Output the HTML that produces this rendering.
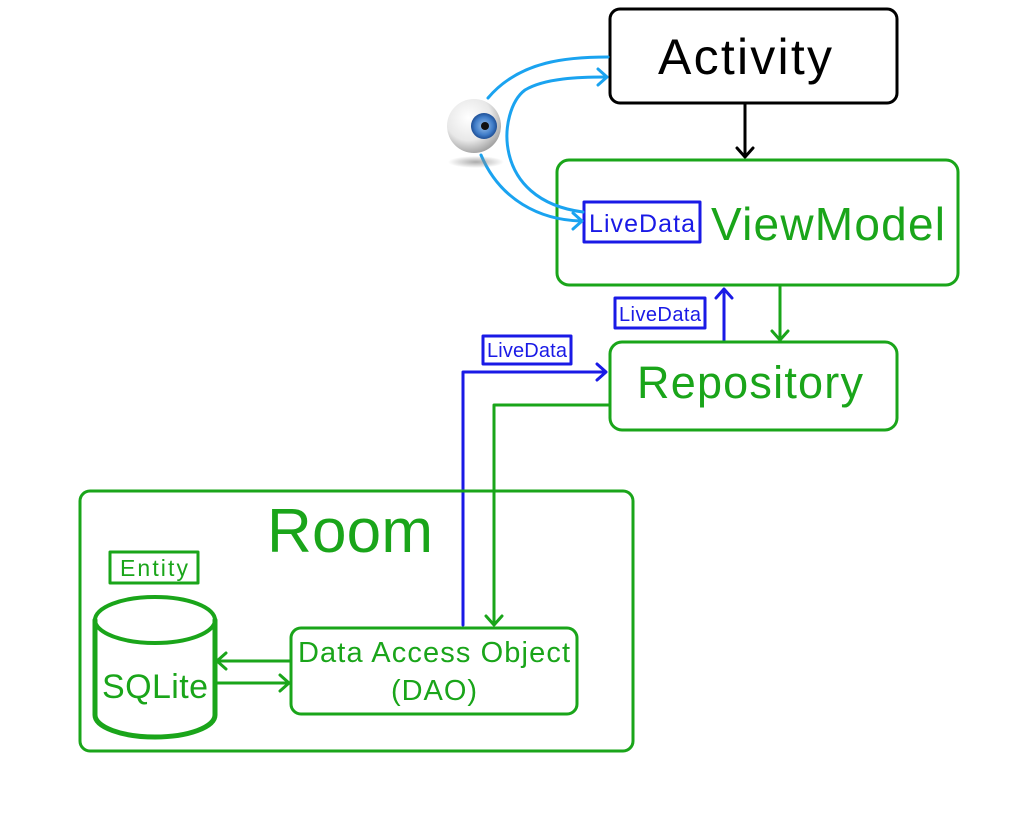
<!DOCTYPE html>
<html><head><meta charset="utf-8"><style>
html,body{margin:0;padding:0;background:#fff;}
svg{display:block;font-family:"Liberation Sans",sans-serif;}
</style></head><body>
<svg width="1025" height="831" viewBox="0 0 1025 831" xmlns="http://www.w3.org/2000/svg">
<defs>
<radialGradient id="eye" cx="0.4" cy="0.35" r="0.7">
<stop offset="0" stop-color="#ffffff"/><stop offset="0.6" stop-color="#e8e8e8"/><stop offset="1" stop-color="#9a9a9a"/>
</radialGradient>
<radialGradient id="iris" cx="0.5" cy="0.5" r="0.5">
<stop offset="0" stop-color="#9cc3ee"/><stop offset="0.7" stop-color="#3f7cc8"/><stop offset="1" stop-color="#1f4f95"/>
</radialGradient>
<radialGradient id="shadow" cx="0.5" cy="0.5" r="0.5">
<stop offset="0" stop-color="#888" stop-opacity="0.7"/><stop offset="1" stop-color="#888" stop-opacity="0"/>
</radialGradient>
</defs>
<g fill="none" stroke-linecap="round" stroke-linejoin="round">
<rect x="610" y="9" width="287" height="94" rx="10" stroke="#000" stroke-width="3"/>
<line x1="745" y1="103" x2="745" y2="156" stroke="#000" stroke-width="3"/>
<polyline points="737,148 745,157 753,148" stroke="#000" stroke-width="3"/>
<rect x="557" y="160" width="401" height="125" rx="12" stroke="#1aa51a" stroke-width="3"/>
<rect x="584" y="202" width="116" height="40" stroke="#1a1ae6" stroke-width="3"/>
<line x1="780" y1="286" x2="780" y2="339" stroke="#1aa51a" stroke-width="3"/>
<polyline points="772,331 780,340 788,331" stroke="#1aa51a" stroke-width="3"/>
<line x1="724" y1="341" x2="724" y2="290" stroke="#1a1ae6" stroke-width="3"/>
<polyline points="716,298 724,289 732,298" stroke="#1a1ae6" stroke-width="3"/>
<rect x="615" y="298" width="90" height="30" stroke="#1a1ae6" stroke-width="3"/>
<rect x="610" y="342" width="287" height="88" rx="12" stroke="#1aa51a" stroke-width="3"/>
<polyline points="463,625 463,372 605,372" stroke="#1a1ae6" stroke-width="3"/>
<polyline points="597,364 606,372 597,380" stroke="#1a1ae6" stroke-width="3"/>
<rect x="483" y="336" width="88" height="28" stroke="#1a1ae6" stroke-width="3"/>
<polyline points="609,405 494,405 494,624" stroke="#1aa51a" stroke-width="3"/>
<polyline points="486,616 494,625 502,616" stroke="#1aa51a" stroke-width="3"/>
<rect x="80" y="491" width="553" height="260" rx="10" stroke="#1aa51a" stroke-width="3"/>
<rect x="110" y="552" width="88" height="31" stroke="#1aa51a" stroke-width="3"/>
<path d="M95,620 L95,715 A60,22 0 0 0 215,715 L215,620" stroke="#1aa51a" stroke-width="5"/>
<ellipse cx="155" cy="620" rx="60" ry="23" stroke="#1aa51a" stroke-width="4"/>
<rect x="291" y="628" width="286" height="86" rx="10" stroke="#1aa51a" stroke-width="3"/>
<line x1="290" y1="661" x2="218" y2="661" stroke="#1aa51a" stroke-width="3"/>
<polyline points="226,653 217,661 226,669" stroke="#1aa51a" stroke-width="3"/>
<line x1="217" y1="683" x2="288" y2="683" stroke="#1aa51a" stroke-width="3"/>
<polyline points="280,675 289,683 280,691" stroke="#1aa51a" stroke-width="3"/>
<path d="M488,98 C520,60 570,57 608,57" stroke="#1aa3f0" stroke-width="3"/>
<path d="M583,212 C490,200 498,110 525,90 C545,78 580,77 606,77" stroke="#1aa3f0" stroke-width="3"/>
<polyline points="598,69 607,77 598,85" stroke="#1aa3f0" stroke-width="3"/>
<path d="M481,155 C500,200 540,220 581,221" stroke="#1aa3f0" stroke-width="3"/>
<polyline points="573,213 582,221 573,229" stroke="#1aa3f0" stroke-width="3"/>
</g>
<ellipse cx="476" cy="162" rx="28" ry="6" fill="url(#shadow)"/>
<circle cx="474" cy="126" r="27" fill="url(#eye)"/>
<circle cx="484" cy="126" r="13" fill="url(#iris)"/>
<circle cx="485" cy="126" r="4" fill="#111"/>
<text x="745" y="74" font-size="50" text-anchor="middle" fill="#000" textLength="174">Activity</text>
<text x="642" y="232" font-size="25" text-anchor="middle" fill="#1a1ae6" textLength="106">LiveData</text>
<text x="711" y="240" font-size="46" fill="#1aa51a" textLength="234">ViewModel</text>
<text x="660" y="321" font-size="20" text-anchor="middle" fill="#1a1ae6" textLength="82">LiveData</text>
<text x="527" y="357" font-size="20" text-anchor="middle" fill="#1a1ae6" textLength="80">LiveData</text>
<text x="750" y="398" font-size="45" text-anchor="middle" fill="#1aa51a" textLength="226">Repository</text>
<text x="350" y="552" font-size="62" text-anchor="middle" fill="#1aa51a" textLength="166">Room</text>
<text x="154" y="576" font-size="23" text-anchor="middle" fill="#1aa51a" textLength="68">Entity</text>
<text x="155" y="698" font-size="34" text-anchor="middle" fill="#1aa51a" textLength="106">SQLite</text>
<text x="434" y="662" font-size="29" text-anchor="middle" fill="#1aa51a" textLength="272">Data Access Object</text>
<text x="434" y="700" font-size="29" text-anchor="middle" fill="#1aa51a" textLength="86">(DAO)</text>
</svg>
</body></html>
